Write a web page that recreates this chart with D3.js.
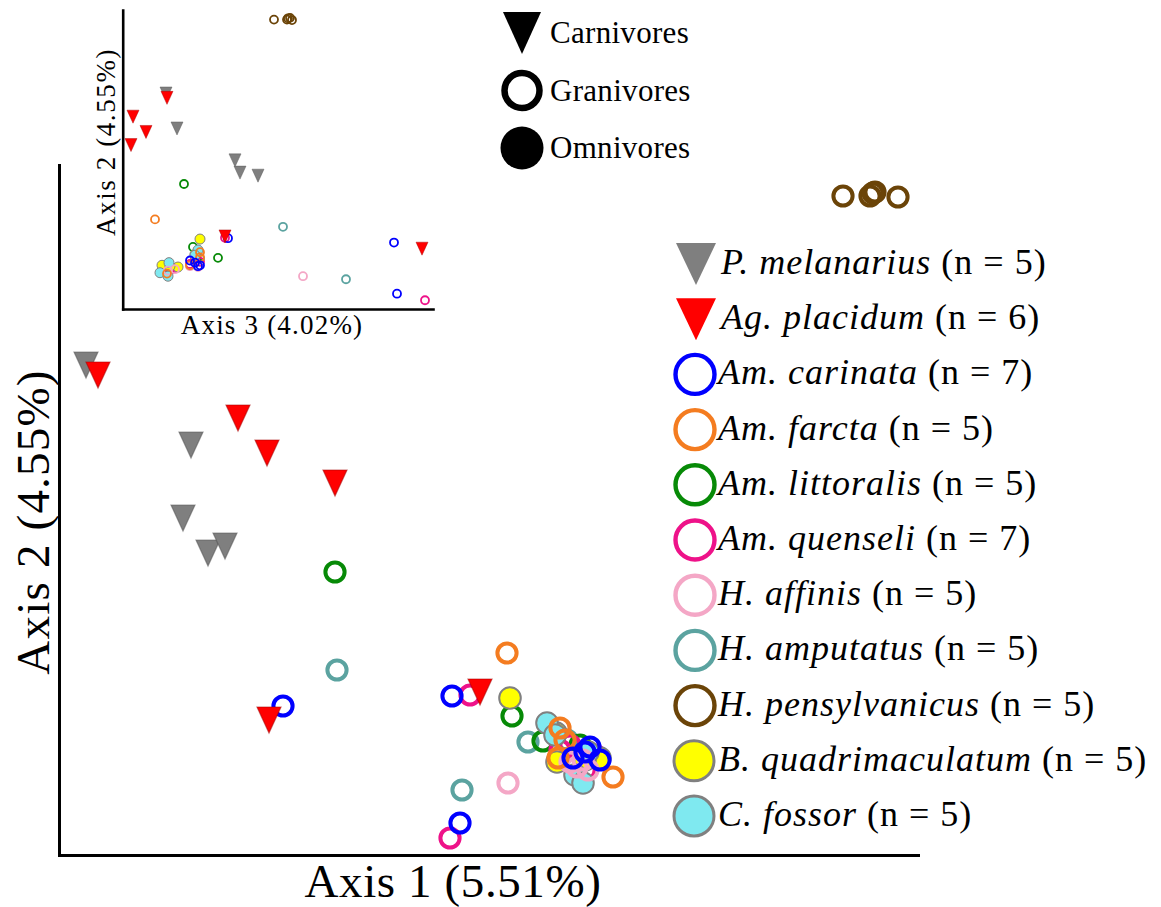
<!DOCTYPE html>
<html>
<head>
<meta charset="utf-8">
<script src="https://cdn.jsdelivr.net/npm/d3@7"></script>
<style>
  body { margin: 0; background: #fff; }
  svg { display: block; }
  text { font-family: "Liberation Serif", "Times New Roman", serif; fill: #000; }
</style>
</head>
<body>
<svg id="chart" width="1161" height="907"></svg>
<script>
// ---- Data --------------------------------------------------------------
const speciesNames = [
  "P. melanarius", "Ag. placidum", "Am. carinata", "Am. farcta",
  "Am. littoralis", "Am. quenseli", "H. affinis", "H. amputatus",
  "H. pensylvanicus", "B. quadrimaculatum", "C. fossor"
];
const sampleSizes = [5, 6, 7, 5, 5, 7, 5, 5, 5, 5, 5];
const dietGroups = ["Carnivores", "Granivores", "Omnivores"];
const speciesDiet = [
  "Carnivores", "Carnivores", "Granivores", "Granivores", "Granivores",
  "Granivores", "Granivores", "Granivores", "Granivores", "Omnivores", "Omnivores"
];
const speciesColors = [
  "#7f7f7f", "#ff0000", "#0000ff", "#f47c20", "#078a07", "#ee1289",
  "#f4a7c6", "#5ba3a0", "#6b4408", "#ffff00", "#7fe9f0"
];
const axisTitles = ["Axis 1 (5.51%)", "Axis 2 (4.55%)", "Axis 3 (4.02%)"];

// PCoA scores per specimen: [axis 1, axis 2, axis 3]
const pMelanarius = [
  [-0.314, 0.190, -0.168], [-0.209, 0.110, -0.146], [-0.217, 0.037, -0.030],
  [-0.192, 0.002, 0.016], [-0.175, 0.009, -0.020]
];
const agPlacidum = [
  [-0.302, 0.180, -0.166], [-0.162, 0.137, -0.234], [-0.133, 0.102, -0.208],
  [-0.065, 0.072, -0.238], [0.080, -0.137, -0.050], [-0.131, -0.165, 0.344]
];
const amCarinata = [
  [-0.117, -0.151, 0.288], [0.052, -0.141, -0.044], [0.060, -0.268, 0.294],
  [0.190, -0.192, -0.120], [0.173, -0.203, -0.100], [0.200, -0.205, -0.104],
  [0.185, -0.197, -0.110]
];
const amFarcta = [
  [0.107, -0.098, -0.190], [0.213, -0.222, -0.166], [0.158, -0.203, -0.120],
  [0.165, -0.185, -0.100], [0.160, -0.173, -0.100]
];
const amLittoralis = [
  [-0.065, -0.017, -0.132], [0.112, -0.161, -0.114], [0.143, -0.186, -0.064],
  [0.175, -0.207, -0.170], [0.180, -0.190, -0.106]
];
const amQuenseli = [
  [0.070, -0.140, -0.050], [0.050, -0.283, 0.350], [0.175, -0.210, -0.150],
  [0.185, -0.215, -0.160], [0.160, -0.195, -0.100], [0.195, -0.200, -0.120],
  [0.170, -0.190, -0.110]
];
const hAffinis = [
  [0.108, -0.228, 0.106], [0.177, -0.212, -0.150], [0.188, -0.215, -0.164],
  [0.170, -0.207, -0.104], [0.183, -0.205, -0.120]
];
const hAmputatus = [
  [-0.063, -0.115, 0.066], [0.062, -0.235, 0.192], [0.128, -0.187, -0.100],
  [0.167, -0.185, -0.110], [0.190, -0.200, -0.164]
];
const hPensylvanicus = [
  [0.443, 0.359, 0.048], [0.470, 0.359, 0.074], [0.475, 0.363, 0.080],
  [0.473, 0.362, 0.076], [0.498, 0.358, 0.084]
];
const bQuadrimaculatum = [
  [0.110, -0.143, -0.100], [0.156, -0.178, -0.110], [0.157, -0.207, -0.144],
  [0.200, -0.203, -0.176], [0.185, -0.205, -0.160]
];
const cFossor = [
  [0.147, -0.168, -0.104], [0.155, -0.180, -0.110], [0.188, -0.197, -0.162],
  [0.175, -0.220, -0.180], [0.183, -0.228, -0.164]
];

const speciesScores = [
  pMelanarius, agPlacidum, amCarinata, amFarcta, amLittoralis, amQuenseli,
  hAffinis, hAmputatus, hPensylvanicus, bQuadrimaculatum, cFossor
];

// ---- Layout -------------------------------------------------------------
const svg = d3.select("#chart");

// main panel: axis 1 vs axis 2
const xMain = d3.scaleLinear().domain([-0.341, 0.518]).range([59, 918]);
const yMain = d3.scaleLinear().domain([-0.300, 0.390]).range([855, 165]);
// inset panel: axis 3 vs axis 2
const xInset = d3.scaleLinear().domain([-0.2546, 0.366]).range([122.7, 433]);
const yInset = d3.scaleLinear().domain([-0.303, 0.381]).range([309, 10]);

// stacking order of the species, back to front
const drawOrder = [7, 4, 5, 9, 10, 6, 3, 2, 0, 1, 8];

const shade = c => d3.color(c).darker(1.2).formatHex();

function trianglePath(w, h) {
  return `M${-w / 2},${-h / 2}L${w / 2},${-h / 2}L0,${h / 2}Z`;
}

function drawMarker(g, sp, cx, cy, sz) {
  const diet = speciesDiet[sp];
  const col = speciesColors[sp];
  if (diet === "Carnivores") {
    g.append("path")
      .attr("d", trianglePath(sz.tw, sz.th))
      .attr("transform", `translate(${cx},${cy})`)
      .attr("fill", col)
      .attr("stroke", shade(col))
      .attr("stroke-opacity", 0.55)
      .attr("stroke-width", sz.tsw);
  } else if (diet === "Granivores") {
    g.append("circle")
      .attr("cx", cx).attr("cy", cy).attr("r", sz.r)
      .attr("fill", "none")
      .attr("stroke", col)
      .attr("stroke-width", sz.sw);
  } else {
    g.append("circle")
      .attr("cx", cx).attr("cy", cy).attr("r", sz.fr)
      .attr("fill", col)
      .attr("stroke", "#808080")
      .attr("stroke-width", sz.fsw);
  }
}

function drawPanel(xs, ys, xi, yi, sz) {
  const g = svg.append("g");
  drawOrder.forEach(sp => {
    speciesScores[sp].forEach(s => {
      drawMarker(g, sp, xs(s[xi]), ys(s[yi]), sz);
    });
  });
}

function drawAxes(xs, ys, y0, x0, width) {
  const gx = svg.append("g")
    .attr("transform", `translate(0,${y0})`)
    .call(d3.axisBottom(xs).tickValues([]).tickSizeOuter(0));
  const gy = svg.append("g")
    .attr("transform", `translate(${x0},0)`)
    .call(d3.axisLeft(ys).tickValues([]).tickSizeOuter(0));
  [gx, gy].forEach(a => a.select(".domain")
    .attr("stroke", "#000")
    .attr("stroke-width", width)
    .attr("stroke-linecap", "square"));
}

// main panel
drawAxes(xMain, yMain, 855, 59, 3);
drawPanel(xMain, yMain, 0, 1, { tw: 24, th: 26, tsw: 1.2, r: 9.6, sw: 4, fr: 10.8, fsw: 2 });

svg.append("text")
  .attr("x", 453).attr("y", 897)
  .attr("text-anchor", "middle")
  .attr("font-size", 47)
  .attr("letter-spacing", 0.6)
  .text(axisTitles[0]);
svg.append("text")
  .attr("transform", "translate(49,522) rotate(-90)")
  .attr("text-anchor", "middle")
  .attr("font-size", 47)
  .attr("letter-spacing", 1.2)
  .text(axisTitles[1]);

// inset panel
drawAxes(xInset, yInset, 309, 122.7, 2.6);
drawPanel(xInset, yInset, 2, 1, { tw: 12, th: 13, tsw: 0.8, r: 4, sw: 1.8, fr: 5, fsw: 1 });

svg.append("text")
  .attr("x", 272).attr("y", 334)
  .attr("text-anchor", "middle")
  .attr("font-size", 27)
  .attr("letter-spacing", 1.2)
  .text(axisTitles[2]);
svg.append("text")
  .attr("transform", "translate(115,142) rotate(-90)")
  .attr("text-anchor", "middle")
  .attr("font-size", 27)
  .attr("letter-spacing", 1.6)
  .text(axisTitles[1]);

// ---- Diet legend ---------------------------------------------------------
const dietLegend = svg.append("g");
dietGroups.forEach((d, i) => {
  const cy = 33 + i * 57.5;
  if (d === "Carnivores") {
    dietLegend.append("path")
      .attr("d", trianglePath(38, 42))
      .attr("transform", `translate(522,${cy})`)
      .attr("fill", "#000");
  } else if (d === "Granivores") {
    dietLegend.append("circle")
      .attr("cx", 522).attr("cy", cy).attr("r", 17.5)
      .attr("fill", "none").attr("stroke", "#000").attr("stroke-width", 6.5);
  } else {
    dietLegend.append("circle")
      .attr("cx", 522).attr("cy", cy).attr("r", 21.5)
      .attr("fill", "#000");
  }
  dietLegend.append("text")
    .attr("x", 550).attr("y", cy + 10)
    .attr("font-size", 31)
    .attr("letter-spacing", 0.3)
    .text(d);
});

// ---- Species legend ------------------------------------------------------
const spLegend = svg.append("g");
speciesNames.forEach((name, i) => {
  const cy = 264 + i * 55.2;
  const diet = speciesDiet[i];
  const col = speciesColors[i];
  if (diet === "Carnivores") {
    spLegend.append("path")
      .attr("d", trianglePath(40, 42))
      .attr("transform", `translate(696,${cy})`)
      .attr("fill", col);
  } else if (diet === "Granivores") {
    spLegend.append("circle")
      .attr("cx", 695).attr("cy", cy).attr("r", 19.5)
      .attr("fill", "none").attr("stroke", col).attr("stroke-width", 4.4);
  } else {
    spLegend.append("circle")
      .attr("cx", 694).attr("cy", cy).attr("r", 20)
      .attr("fill", col).attr("stroke", "#808080").attr("stroke-width", 3);
  }
  const t = spLegend.append("text")
    .attr("x", i < 2 ? 721 : 718).attr("y", cy + 10)
    .attr("font-size", 36)
    .attr("letter-spacing", 1);
  t.append("tspan").attr("font-style", "italic").text(name);
  t.append("tspan").text(` (n = ${sampleSizes[i]})`);
});
</script>
</body>
</html>
